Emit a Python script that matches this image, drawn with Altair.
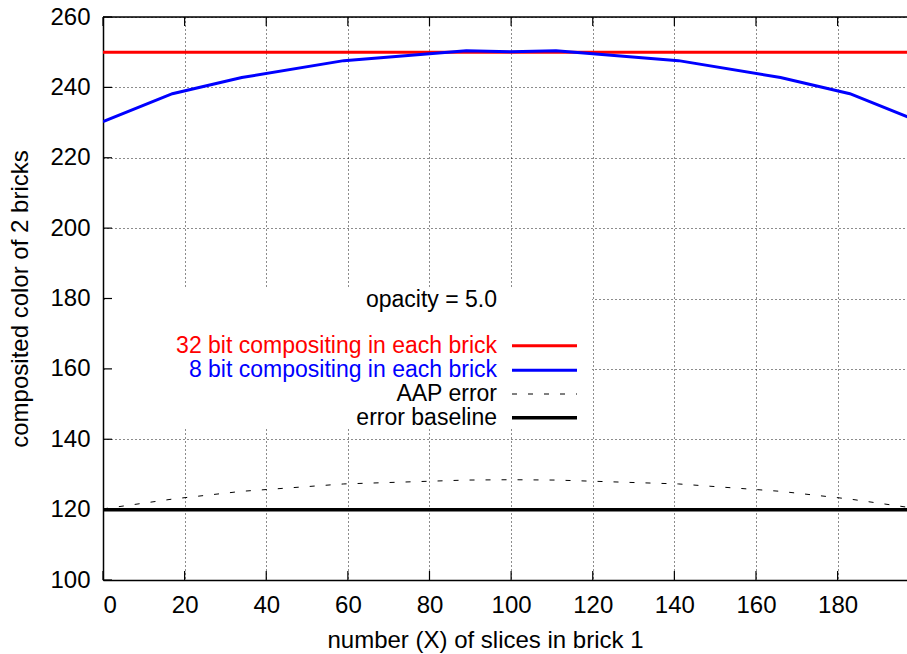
import altair as alt
import pandas as pd

# ---- data ----
slices = [0, 17, 34, 59, 89, 100, 111, 141, 166, 183, 200]
bit8_vals = [230.3, 238.2, 242.8, 247.6, 250.4, 250.1, 250.4, 247.6, 242.8, 238.2, 230.3]
aap_vals = [120.2, 123.0, 125.2, 127.3, 128.4, 128.5, 128.4, 127.3, 125.2, 123.0, 120.2]
red_x = [0, 200]
red_vals = [250, 250]
base_x = [0, 200]
base_vals = [120, 120]
x_ticks = [0, 20, 40, 60, 80, 100, 120, 140, 160, 180]
y_ticks = [100, 120, 140, 160, 180, 200, 220, 240, 260]
legend_labels = ["32 bit compositing in each brick", "8 bit compositing in each brick",
                 "AAP error", "error baseline"]
note_text = "opacity = 5.0"

FONT = "Liberation Sans"
FS = 24
LFS = 23
W, H = 804, 563

xs = alt.Scale(domain=[0, 197], nice=False, zero=False)
ys = alt.Scale(domain=[100, 260], nice=False, zero=False)

x_axis = alt.Axis(values=x_ticks, title="number (X) of slices in brick 1",
                  labelFont=FONT, labelFontSize=FS, labelColor="black", labelPadding=13,
                  tickSize=0, domainColor="black", domainWidth=1.5,
                  grid=True, gridColor="black", gridDash=[1, 3], gridWidth=1, gridOpacity=0.9,
                  titleFont=FONT, titleFontSize=FS, titleFontWeight="normal", titleColor="black",
                  titleX=382, titleY=60, titleBaseline="middle", titleAlign="center")
y_axis = alt.Axis(values=y_ticks, title="composited color of 2 bricks",
                  labelFont=FONT, labelFontSize=FS, labelColor="black", labelPadding=13,
                  tickSize=0, domainColor="black", domainWidth=1.5,
                  grid=True, gridColor="black", gridDash=[1, 3], gridWidth=1, gridOpacity=0.9,
                  titleFont=FONT, titleFontSize=FS, titleFontWeight="normal", titleColor="black",
                  titleX=-83, titleY=H / 2, titleAngle=270, titleBaseline="middle", titleAlign="center")


def X(field):
    return alt.X(field, scale=xs, axis=x_axis)


def Y(field):
    return alt.Y(field, scale=ys, axis=y_axis)


df_red = pd.DataFrame({"x": red_x, "y": red_vals})
df_blue = pd.DataFrame({"x": slices, "y": bit8_vals})
df_aap = pd.DataFrame({"x": slices, "y": aap_vals})
df_base = pd.DataFrame({"x": base_x, "y": base_vals})
dummy = pd.DataFrame({"a": [0]})

red = alt.Chart(df_red).mark_line(color="#ff0000", strokeWidth=3, clip=True).encode(
    x=X("x:Q"), y=Y("y:Q"))

mask = alt.Chart(dummy).mark_rect(color="white").encode(
    x=alt.value(2), x2=alt.value(489), y=alt.value(271), y2=alt.value(412))

ytick_l = alt.Chart(pd.DataFrame({"v": y_ticks})).mark_rule(color="black", strokeWidth=1.2).encode(
    y=Y("v:Q"), x=alt.value(0), x2=alt.value(9))
xtick_b = alt.Chart(pd.DataFrame({"v": x_ticks})).mark_rule(color="black", strokeWidth=1.2).encode(
    x=X("v:Q"), y=alt.value(H), y2=alt.value(H - 9))
xtick_t = alt.Chart(pd.DataFrame({"v": x_ticks})).mark_rule(color="black", strokeWidth=1.2).encode(
    x=X("v:Q"), y=alt.value(0), y2=alt.value(9))
top_border = alt.Chart(dummy).mark_rule(color="black", strokeWidth=1.5).encode(
    x=alt.value(0), x2=alt.value(W), y=alt.value(0))

blue = alt.Chart(df_blue).mark_line(color="#0000ff", strokeWidth=3, clip=True).encode(
    x=X("x:Q"), y=Y("y:Q"))
aap = alt.Chart(df_aap).mark_line(color="black", strokeWidth=1, strokeDash=[5, 11], clip=True).encode(
    x=X("x:Q"), y=Y("y:Q"))
base = alt.Chart(df_base).mark_line(color="black", strokeWidth=3.5, clip=True).encode(
    x=X("x:Q"), y=Y("y:Q"))

layers = [red, mask, ytick_l, xtick_b, xtick_t, top_border, blue, aap, base]

# legend (drawn in pixel space like gnuplot's key)
TX = 394
SX1, SX2 = 409, 474
rows_y = [328.8, 353.2, 377.0, 400.8]
colors = ["#ff0000", "#0000ff", "black", "black"]
widths = [3, 3, 1, 3.5]
dashes = [None, None, [5, 11], None]

layers.append(alt.Chart(pd.DataFrame({"t": [note_text]})).mark_text(
    align="right", baseline="middle", font=FONT, fontSize=LFS, color="black").encode(
    x=alt.value(TX), y=alt.value(283), text="t:N"))
for lab, ry, col, sw, da in zip(legend_labels, rows_y, colors, widths, dashes):
    layers.append(alt.Chart(pd.DataFrame({"t": [lab]})).mark_text(
        align="right", baseline="middle", font=FONT, fontSize=LFS, color=col).encode(
        x=alt.value(TX), y=alt.value(ry), text="t:N"))
    kw = dict(color=col, strokeWidth=sw)
    if da:
        kw["strokeDash"] = da
    layers.append(alt.Chart(dummy).mark_rule(**kw).encode(
        x=alt.value(SX1), x2=alt.value(SX2), y=alt.value(ry)))

chart = alt.layer(*layers).properties(
    width=W, height=H,
    autosize=alt.AutoSizeParams(type="none"),
    padding={"left": 103, "top": 17, "right": 0, "bottom": 74},
).configure_view(stroke=None).configure(background="white")

chart.save("out.html", embed_options={"renderer": "svg", "actions": False})
